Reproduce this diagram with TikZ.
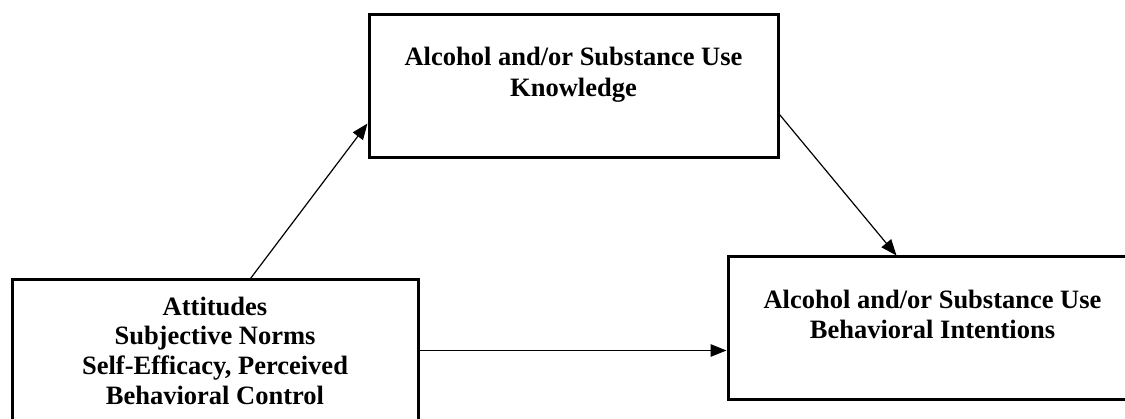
\documentclass[tikz,border=0pt]{standalone}
\usepackage{fontspec}
\setmainfont{Liberation Serif}
\usetikzlibrary{arrows.meta}
\tikzset{
  box/.style={draw=black, line width=3pt, rectangle, inner sep=0pt},
  lbl/.style={anchor=north, align=center, inner sep=0pt},
  arr/.style={draw=black, line width=1.2pt, -{Triangle[length=16pt,width=12.5pt]}},
}
\begin{document}
\begin{tikzpicture}[x=1pt, y=-1pt]
\useasboundingbox (0,0) rectangle (1125,419);
\clip (0,0) rectangle (1125,419);
% boxes
\node[box, minimum width=409pt, minimum height=143pt] (T) at (573.5,86.5) {};
\node[box, minimum width=406pt, minimum height=170pt] (L) at (215,365) {};
\node[box, minimum width=420pt, minimum height=143pt] (R) at (938,328.5) {};
% texts
\node[lbl, font=\fontsize{26.5}{31.5}\selectfont\bfseries] (Tt) at (573.5,46.7) {Alcohol and/or Substance Use\\Knowledge};
\node[lbl, font=\fontsize{26.5}{29.6}\selectfont\bfseries] (Lt) at (215,296.7) {Attitudes\\Subjective Norms\\Self-Efficacy, Perceived\\Behavioral Control};
\node[lbl, font=\fontsize{26.5}{30}\selectfont\bfseries] (Rt) at (932.5,290) {Alcohol and/or Substance Use\\Behavioral Intentions};
% connectors
\draw[arr] ([xshift=240pt]L.north west) -- ([yshift=36pt]T.south west);
\draw[arr] ([yshift=45pt]T.south east) -- ([xshift=170pt]R.north west);
\coordinate (h) at ([yshift=-72pt]L.north east);
\draw[arr] (h) -- (h -| R.west);
\end{tikzpicture}
\end{document}
